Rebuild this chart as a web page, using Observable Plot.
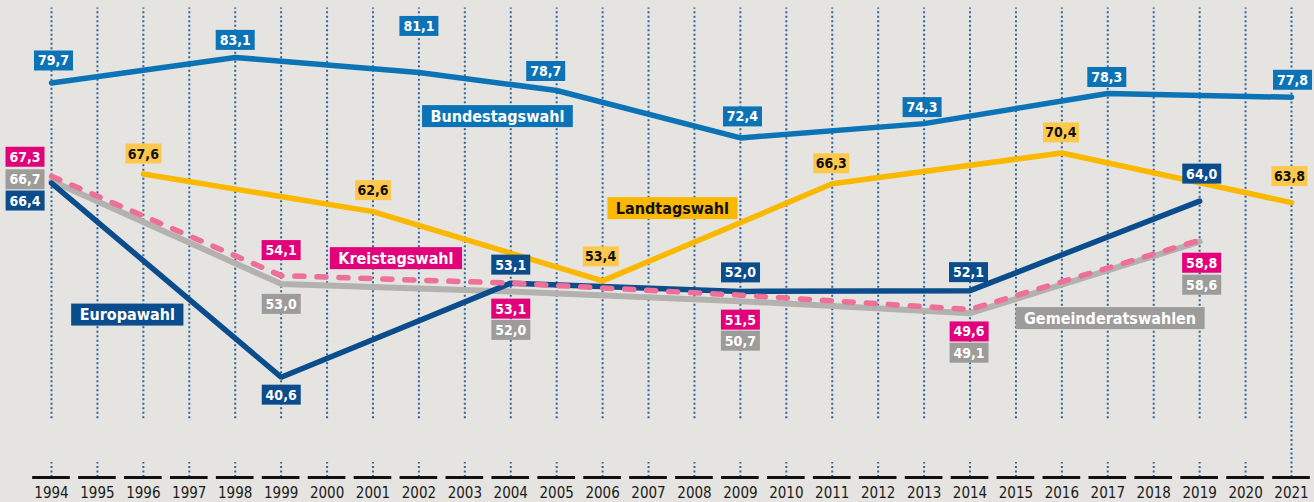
<!DOCTYPE html>
<html><head><meta charset="utf-8">
<script src="https://cdn.jsdelivr.net/npm/d3@7"></script>
<script src="https://cdn.jsdelivr.net/npm/@observablehq/plot@0.6"></script>
<style>
html,body{margin:0;padding:0;background:#e5e4e0;}
#chart svg{display:block;}
</style></head><body><div id="chart"></div>
<script>
// ---- data ----
const tickYears = [1994,1995,1996,1997,1998,1999,2000,2001,2002,2003,2004,2005,2006,2007,2008,2009,2010,2011,2012,2013,2014,2015,2016,2017,2018,2019,2020,2021];

const bundYears  = [1994, 1998, 2002, 2005, 2009, 2013, 2017, 2021];
const bundValues = [79.7, 83.1, 81.1, 78.7, 72.4, 74.3, 78.3, 77.8];

const landYears  = [1996, 2001, 2006, 2011, 2016, 2021];
const landValues = [67.6, 62.6, 53.4, 66.3, 70.4, 63.8];

const euroYears  = [1994, 1999, 2004, 2009, 2014, 2019];
const euroValues = [66.4, 40.6, 53.1, 52.0, 52.1, 64.0];

const kreisYears  = [1994, 1999, 2004, 2009, 2014, 2019];
const kreisValues = [67.3, 54.1, 53.1, 51.5, 49.6, 58.8];

const gemYears  = [1994, 1999, 2004, 2009, 2014, 2019];
const gemValues = [66.7, 53.0, 52.0, 50.7, 49.1, 58.6];

const seriesNames = ["Bundestagswahl", "Landtagswahl", "Kreistagswahl", "Europawahl", "Gemeinderatswahlen"];

// ---- layout (label offsets in px, name label anchors) ----
const bundOff  = [[2,-22],[0,-17],[0,-46],[-11,-19],[2,-21],[-2,-16],[-1,-16],[1,-17]];
const landOff  = [[0,-20],[0,-21],[-2,-24],[-1,-20],[-1,-20],[-2,-26]];
const euroOff  = [[-26.5,18],[0,18],[0,-18],[0,-18.5],[-1.5,-18],[2,-27]];
const kreisOff = [[-26.5,-19],[0,-25],[0,26],[0,25],[-1,22.5],[2,23]];
const gemOff   = [[-26.5,-1],[0,20.5],[0,39],[0,40],[-1,40],[2,43.5]];
const namePos  = [[2003.71,75.25],[2007.52,63.02],[2001.5,56.37],[1995.65,48.87],[2017.05,48.4]];

const W = 1314, H = 502, mT = 5, mB = 23, mL = 51, mR = 23;
const xDom = [1994, 2021], yDom = [27, 90];
const pxYear = (W - mL - mR) / (xDom[1] - xDom[0]);
const pxUnit = (H - mT - mB) / (yDom[1] - yDom[0]);

const C = {
  bund: "#0c74b6", land: "#fbb800", landLbl: "#fdc84b", euro: "#0b4c8c",
  kreis: "#e3007b", kreisLine: "#ee6f98", gemLine: "#b3b2af", gem: "#9d9c9a", grid: "#2c66a4"
};

const series = (ys, vs) => ys.map((y, i) => ({year: y, value: vs[i]}));
const labels = (ys, vs, off) => ys.map((y, i) => ({
  x: y + off[i][0] / pxYear,
  y: vs[i] - off[i][1] / pxUnit,
  text: vs[i].toFixed(1).replace(".", ",")
}));
const names = seriesNames.map((n, i) => ({x: namePos[i][0], y: namePos[i][1], text: n}));

const FONT = "'DejaVu Sans Condensed', 'DejaVu Sans', sans-serif";
const valText = (data, fill) => Plot.text(data, {x: "x", y: "y", text: "text", fill, fontSize: 14, fontWeight: "bold", fontFamily: FONT});
const nameText = (d, fill) => Plot.text([d], {x: "x", y: "y", text: "text", fill, fontSize: 16, fontWeight: "bold", fontFamily: FONT});

// box specs, same order as the text marks below
const boxSpecs = [
  {fill: C.bund, w: 39, h: 20},
  {fill: C.landLbl, w: 36, h: 20},
  {fill: C.euro, w: 39, h: 20},
  {fill: C.kreis, w: 39, h: 20},
  {fill: C.gem, w: 39, h: 20},
  {fill: C.bund, pad: 8.5, h: 22},
  {fill: C.land, pad: 8.5, h: 22},
  {fill: C.kreis, pad: 8.5, h: 22},
  {fill: C.euro, pad: 8.5, h: 22},
  {fill: C.gem, pad: 8.5, h: 22}
];

const gridTop = 89.67, gapTop = 35.07, gapBottom = 29.26, axisY = 27.27;

const svg = Plot.plot({
  width: W, height: H,
  marginTop: mT, marginBottom: mB, marginLeft: mL, marginRight: mR,
  style: {background: "transparent", fontFamily: FONT, fontSize: "14px", color: "#1a1a1a"},
  x: {domain: xDom, ticks: tickYears, tickFormat: d => String(d), tickSize: 0, tickPadding: 8, label: null},
  y: {domain: yDom, axis: null},
  marks: [
    Plot.ruleX(tickYears.filter(d => d !== 2021), {x: d => d, y1: gapTop, y2: gridTop, stroke: C.grid, strokeWidth: 2, strokeDasharray: "2,2.5"}),
    Plot.ruleX(tickYears.filter(d => d !== 2021), {x: d => d, y1: axisY, y2: gapBottom, stroke: C.grid, strokeWidth: 2, strokeDasharray: "2,2.5"}),
    Plot.ruleX([2021], {x: d => d, y1: axisY, y2: gridTop, stroke: C.grid, strokeWidth: 2, strokeDasharray: "2,2.5"}),
    Plot.ruleY(tickYears, {y: axisY, x1: d => d - 0.41, x2: d => d + 0.41, stroke: "#111", strokeWidth: 3}),
    Plot.line(series(bundYears, bundValues), {x: "year", y: "value", stroke: C.bund, strokeWidth: 5.5, strokeLinecap: "round", strokeLinejoin: "miter"}),
    Plot.line(series(gemYears, gemValues), {x: "year", y: "value", stroke: C.gemLine, strokeWidth: 6, strokeLinecap: "round", strokeLinejoin: "miter"}),
    Plot.line(series(landYears, landValues), {x: "year", y: "value", stroke: C.land, strokeWidth: 5.5, strokeLinecap: "round", strokeLinejoin: "miter"}),
    Plot.line(series(euroYears, euroValues), {x: "year", y: "value", stroke: C.euro, strokeWidth: 5.5, strokeLinecap: "round", strokeLinejoin: "miter"}),
    Plot.line(series(kreisYears, kreisValues), {x: "year", y: "value", stroke: C.kreisLine, strokeWidth: 5.5, strokeLinecap: "round", strokeLinejoin: "round", strokeDasharray: "9,13"}),
    valText(labels(bundYears, bundValues, bundOff), "white"),
    valText(labels(landYears, landValues, landOff), "#111"),
    valText(labels(euroYears, euroValues, euroOff), "white"),
    valText(labels(kreisYears, kreisValues, kreisOff), "white"),
    valText(labels(gemYears, gemValues, gemOff), "white"),
    nameText(names[0], "white"),
    nameText(names[1], "#111"),
    nameText(names[2], "white"),
    nameText(names[3], "white"),
    nameText(names[4], "white")
  ]
});
document.getElementById("chart").append(svg);

// larger tick labels, as in the reference
svg.querySelectorAll("text").forEach(t => {
  const g = t.parentNode;
  if (g && g.getAttribute && g.getAttribute("aria-label") === "text") return;
  if (/^\d{4}$/.test(t.textContent.trim())) {
    t.setAttribute("font-size", "15");
    t.style.fontSize = "15px";
    t.style.fill = "#1a1a1a";
  }
});

// add label boxes behind each value / name text
const NS = "http://www.w3.org/2000/svg";
svg.querySelectorAll('g[aria-label="text"]').forEach((g, i) => {
  const spec = boxSpecs[i];
  if (!spec) return;
  g.querySelectorAll("text").forEach(t => {
    const b = t.getBBox();
    const w = spec.w != null ? spec.w : b.width + 2 * spec.pad;
    const r = document.createElementNS(NS, "rect");
    r.setAttribute("x", b.x + b.width / 2 - w / 2);
    r.setAttribute("y", b.y + b.height / 2 - spec.h / 2);
    r.setAttribute("width", w);
    r.setAttribute("height", spec.h);
    r.setAttribute("fill", spec.fill);
    r.setAttribute("stroke", "none");
    if (t.hasAttribute("transform")) r.setAttribute("transform", t.getAttribute("transform"));
    g.insertBefore(r, t);
  });
});
</script>
</body></html>
